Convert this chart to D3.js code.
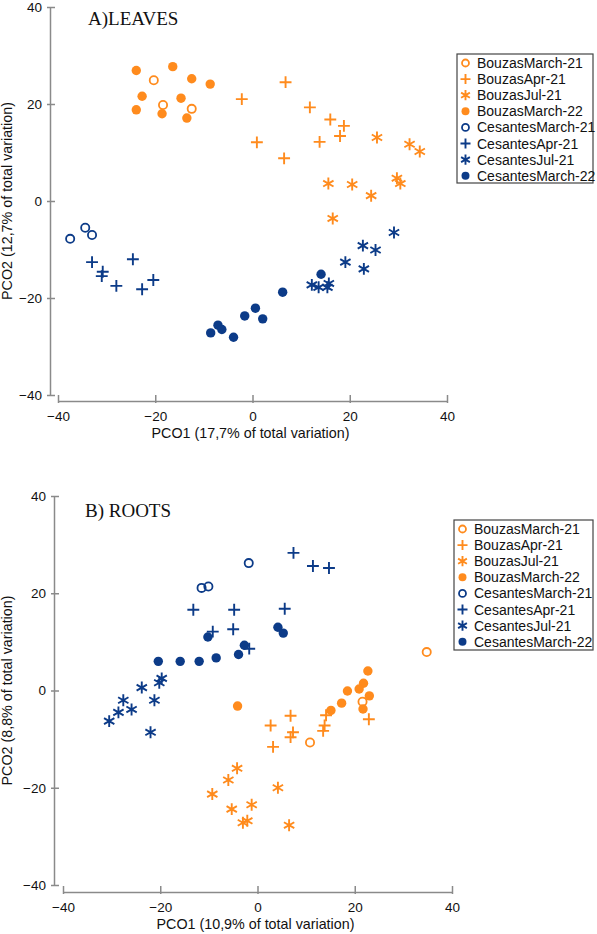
<!DOCTYPE html>
<html>
<head>
<meta charset="utf-8">
<script src="https://cdn.jsdelivr.net/npm/d3@7"></script>
<style>
  body { margin: 0; background: #fff; }
  svg { display: block; }
</style>
</head>
<body>
<svg id="chart" width="597" height="934"></svg>
<script>
// series names, same for both panels
var seriesNames = ["BouzasMarch-21", "BouzasApr-21", "BouzasJul-21", "BouzasMarch-22",
                   "CesantesMarch-21", "CesantesApr-21", "CesantesJul-21", "CesantesMarch-22"];
var tickValues = [-40, -20, 0, 20, 40];

// A) leaves  [PCO1, PCO2]
var leavesBouzasMar21 = [[-20.3, 24.9], [-18.4, 19.8], [-12.5, 19.0]];
var leavesBouzasApr21 = [[-2.2, 21.0], [6.8, 24.5], [0.9, 12.1], [6.5, 8.8], [11.8, 19.3],
                         [16.0, 16.8], [18.8, 15.5], [13.8, 12.2], [18.0, 13.4]];
var leavesBouzasJul21 = [[25.6, 13.1], [32.3, 11.7], [34.4, 10.2], [15.6, 3.6], [20.5, 3.4],
                         [24.4, 1.1], [29.7, 4.7], [30.4, 3.6], [16.5, -3.6]];
var leavesBouzasMar22 = [[-23.9, 26.9], [-16.4, 27.7], [-12.5, 25.2], [-8.7, 24.1], [-22.7, 21.6],
                         [-14.7, 21.2], [-23.9, 18.8], [-18.6, 18.0], [-13.5, 17.1]];
var leavesCesantesMar21 = [[-37.5, -7.8], [-34.4, -5.5], [-33.0, -7.0]];
var leavesCesantesApr21 = [[-33.0, -12.6], [-30.8, -14.6], [-31.0, -15.5], [-28.0, -17.5],
                           [-24.6, -12.0], [-22.7, -18.2], [-20.4, -16.3]];
var leavesCesantesJul21 = [[29.1, -6.5], [22.7, -9.2], [25.3, -10.1], [19.1, -12.6], [22.9, -14.0],
                           [12.2, -17.3], [13.6, -17.8], [15.4, -17.8], [15.7, -17.0]];
var leavesCesantesMar22 = [[-8.6, -27.2], [-7.1, -25.6], [-6.3, -26.5], [-3.9, -28.1], [-1.6, -23.7],
                           [0.6, -22.1], [2.1, -24.3], [6.2, -18.8], [14.1, -15.1]];

// B) roots  [PCO1, PCO2]
var rootsBouzasMar21 = [[34.8, 7.9], [10.8, -10.7], [21.6, -2.3]];
var rootsBouzasApr21 = [[2.7, -7.2], [6.8, -5.2], [7.3, -8.6], [6.8, -9.6], [3.2, -11.6],
                        [14.1, -5.1], [13.8, -7.2], [13.5, -8.3], [22.9, -5.9]];
var rootsBouzasJul21 = [[-4.2, -16.0], [-6.0, -18.4], [-9.3, -21.3], [4.2, -20.0], [-5.3, -24.4],
                        [-1.2, -23.5], [-3.0, -27.2], [-2.1, -26.8], [6.5, -27.7]];
var rootsBouzasMar22 = [[22.7, 4.0], [21.8, 1.5], [20.9, 0.3], [23.0, -1.1], [18.5, -0.1],
                        [17.3, -2.6], [15.1, -4.1], [21.7, -3.8], [-4.1, -3.2]];
var rootsCesantesMar21 = [[-11.5, 21.1], [-10.1, 21.4], [-1.8, 26.2]];
var rootsCesantesApr21 = [[7.4, 28.3], [11.4, 25.6], [14.7, 25.2], [-13.2, 16.6], [-4.8, 16.6],
                          [5.6, 16.8], [-9.2, 12.1], [-5.0, 12.6], [-1.7, 8.6]];
var rootsCesantesJul21 = [[-30.5, -6.3], [-28.6, -4.5], [-27.6, -2.0], [-25.9, -3.9], [-23.8, 0.6],
                          [-21.2, -2.0], [-22.0, -8.6], [-20.2, 1.6], [-19.7, 2.5]];
var rootsCesantesMar22 = [[-10.2, 11.0], [4.2, 13.0], [5.3, 11.8], [-2.7, 9.3], [-3.9, 7.4],
                          [-8.5, 6.7], [-12.0, 6.0], [-15.9, 6.0], [-20.4, 6.0]];

var orange = "#ff8b1d", navy = "#0c3b88";
var colors = [orange, orange, orange, orange, navy, navy, navy, navy];
var shapes = ["open", "plus", "asterisk", "filled", "open", "plus", "asterisk", "filled"];

var panels = [
    {
        title: "A)LEAVES", titleX: 88, titleY: 25,
        xLabel: "PCO1 (17,7% of total variation)",
        yLabel: "PCO2 (12,7% of total variation)",
        series: [leavesBouzasMar21, leavesBouzasApr21, leavesBouzasJul21, leavesBouzasMar22,
                 leavesCesantesMar21, leavesCesantesApr21, leavesCesantesJul21, leavesCesantesMar22],
        xr: [58, 447], yr: [395, 7], yAxisX: 50, xAxisY: 401,
        legend: { x: 457, y: 54, w: 136, h: 129 }
    },
    {
        title: "B) ROOTS", titleX: 85, titleY: 517,
        xLabel: "PCO1 (10,9% of total variation)",
        yLabel: "PCO2 (8,8% of total variation)",
        series: [rootsBouzasMar21, rootsBouzasApr21, rootsBouzasJul21, rootsBouzasMar22,
                 rootsCesantesMar21, rootsCesantesApr21, rootsCesantesJul21, rootsCesantesMar22],
        xr: [63, 452], yr: [885, 496], yAxisX: 54, xAxisY: 892,
        legend: { x: 454, y: 520, w: 139, h: 130 }
    }
];

var svg = d3.select("#chart");
var sans = "Liberation Sans, Arial, sans-serif";

// one marker drawn into a group at (cx, cy)
function drawMarker(g, shape, color, cx, cy, k) {
    if (shape == "filled") {
        g.append("circle").attr("cx", cx).attr("cy", cy).attr("r", 4.7 * k).attr("fill", color);
    } else if (shape == "open") {
        g.append("circle").attr("cx", cx).attr("cy", cy).attr("r", 4.1 * k)
            .attr("fill", "none").attr("stroke", color).attr("stroke-width", 1.8);
    } else {
        var sym = shape == "plus" ? d3.symbolPlus : d3.symbolAsterisk;
        var size = shape == "plus" ? 48 : 100;
        g.append("path")
            .attr("d", d3.symbol().type(sym).size(size * k * k)())
            .attr("transform", "translate(" + cx + "," + cy + ")")
            .attr("fill", "none").attr("stroke", color).attr("stroke-width", 1.9);
    }
}

panels.forEach(function (p) {
    var x = d3.scaleLinear().domain([-40, 40]).range(p.xr);
    var y = d3.scaleLinear().domain([-40, 40]).range(p.yr);

    // y axis
    var gy = svg.append("g").attr("transform", "translate(" + p.yAxisX + ",0)")
        .call(d3.axisLeft(y).tickValues(tickValues).tickSizeInner(-5).tickSizeOuter(0));
    gy.selectAll(".tick line").attr("x1", -3);
    gy.selectAll(".tick text").attr("x", -8);

    // x axis
    var gx = svg.append("g").attr("transform", "translate(0," + p.xAxisY + ")")
        .call(d3.axisBottom(x).tickValues(tickValues).tickSizeInner(-6).tickSizeOuter(0));
    gx.selectAll(".tick line").attr("y1", 2);
    gx.selectAll(".tick text").attr("y", 10);

    svg.selectAll(".domain, .tick line").attr("stroke", "#8a8a8a").attr("stroke-width", 1.5);
    svg.selectAll(".tick text").attr("font-family", sans)
        .attr("font-size", 13.5).attr("fill", "#111");

    // axis titles
    svg.append("text")
        .attr("x", (p.xr[0] + p.xr[1]) / 2 - 2)
        .attr("y", p.xAxisY + 37)
        .attr("text-anchor", "middle")
        .attr("font-family", sans)
        .attr("font-size", 14.3).attr("fill", "#111")
        .text(p.xLabel);
    svg.append("text")
        .attr("transform", "translate(12," + (p.yr[0] + p.yr[1]) / 2 + ") rotate(-90)")
        .attr("text-anchor", "middle")
        .attr("font-family", sans)
        .attr("font-size", 14.3).attr("fill", "#111")
        .text(p.yLabel);

    // panel title
    svg.append("text")
        .attr("x", p.titleX).attr("y", p.titleY)
        .attr("font-family", "Liberation Serif, Times New Roman, serif")
        .attr("font-size", 19).attr("fill", "#111")
        .text(p.title);

    // points
    var pts = svg.append("g");
    p.series.forEach(function (data, i) {
        data.forEach(function (d) {
            drawMarker(pts, shapes[i], colors[i], x(d[0]), y(d[1]), 1);
        });
    });

    // legend
    var lg = svg.append("g").attr("transform", "translate(" + p.legend.x + "," + p.legend.y + ")");
    lg.append("rect").attr("width", p.legend.w).attr("height", p.legend.h)
        .attr("fill", "#fff").attr("stroke", "#444").attr("stroke-width", 1.2);
    seriesNames.forEach(function (name, i) {
        var ly = 9 + i * 16.1;
        drawMarker(lg, shapes[i], colors[i], 8.5, ly, 0.85);
        lg.append("text")
            .attr("x", 20).attr("y", ly + 5)
            .attr("font-family", sans)
            .attr("font-size", 14).attr("fill", "#111")
            .text(name);
    });
});
</script>
</body>
</html>
